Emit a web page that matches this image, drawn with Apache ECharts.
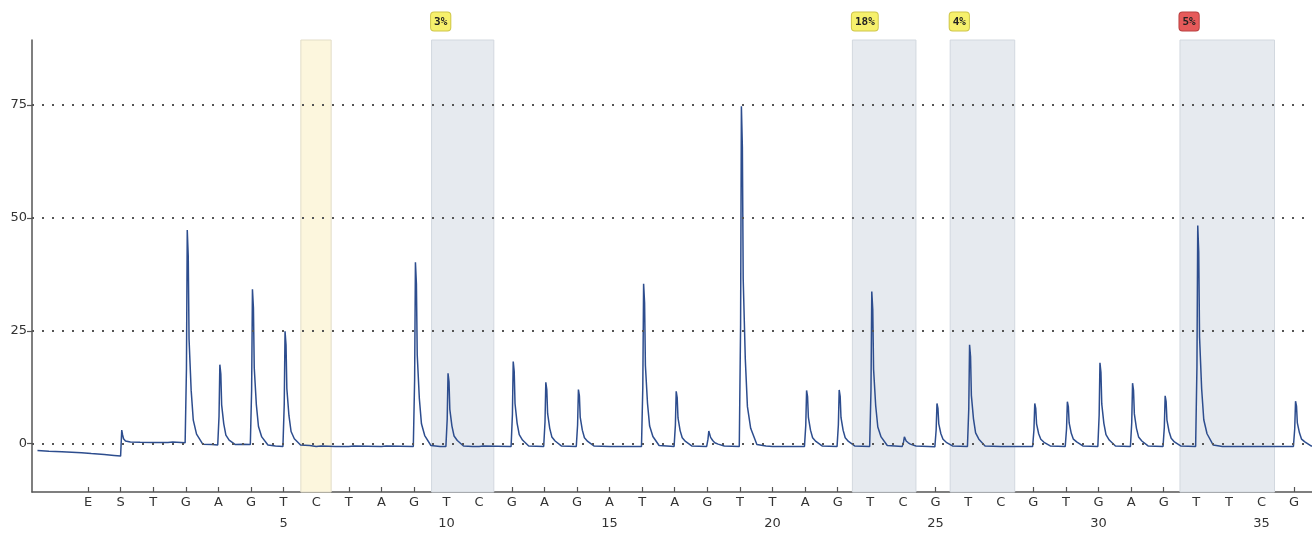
<!DOCTYPE html>
<html>
<head>
<meta charset="utf-8">
<script src="https://cdn.jsdelivr.net/npm/echarts@6/dist/echarts.min.js"></script>
<style>
html,body{margin:0;padding:0;background:#fff;}
#chart{width:1312px;height:534px;}
</style>
</head>
<body>
<div id="chart"></div>
<script>
// Dispensation order: index 0 = E (position -1), index 1 = S (position 0), then positions 1..36
const dispensation = ['E','S','T','G','A','G','T','C','T','A','G','T','C','G','A','G','A','T','A','G','T','T','A','G','T','C','G','T','C','G','T','G','A','G','T','T','C','G'];
const numberedPositions = [5,10,15,20,25,30,35];
const yTicks = [0,25,50,75];

// Highlighted dispensation ranges and their badges
const shadedRanges = [[5.53,6.46],[9.54,11.45],[22.45,24.4],[25.45,27.43],[32.5,35.4]];
const shadedKinds = ['yellow','gray','gray','gray','gray'];
const badgeLabels = ['','3%','18%','4%','5%'];
const badgeKinds = ['','yellow','yellow','yellow','red'];

// Pyrogram trace [position, signal]
const trace = [
[-2.55,-1.5],[-2.2,-1.7],[-1.8,-1.8],[-1.5,-1.9],[-1.2,-2.0],[-0.9,-2.2],[-0.5,-2.4],[-0.2,-2.6],[0.0,-2.75],[0.02,-2.6],
[0.035,3.0],[0.06,2.0],[0.09,1.1],[0.15,0.6],[0.3,0.35],[0.6,0.3],[1.0,0.25],[1.45,0.25],[1.5,0.6],[1.6,0.35],[1.98,0.2],
[2.0,0.2],[2.02,16.5],[2.045,47.3],[2.075,41.6],[2.1,23.2],[2.165,11.8],[2.23,5.2],[2.33,2.1],[2.52,-0.1],[2.8,-0.2],[2.98,-0.3],
[3.0,-0.3],[3.02,6.1],[3.045,17.5],[3.075,15.4],[3.1,8.6],[3.165,4.4],[3.23,1.9],[3.33,0.8],[3.52,-0.2],[3.75,-0.1],[3.98,-0.2],
[4.0,-0.2],[4.02,12.0],[4.045,34.2],[4.075,30.1],[4.1,16.8],[4.165,8.6],[4.23,3.8],[4.33,1.5],[4.52,-0.3],[4.75,-0.5],[4.98,-0.6],
[5.0,-0.6],[5.02,8.7],[5.045,24.9],[5.075,21.9],[5.1,12.2],[5.165,6.2],[5.23,2.7],[5.33,1.1],[5.52,-0.3],[5.8,-0.4],
[6.0,-0.6],[6.05,-0.3],[6.15,-0.5],[6.6,-0.6],[7.0,-0.6],[7.05,-0.3],[7.15,-0.5],[8.0,-0.6],[8.05,-0.35],[8.15,-0.5],[8.98,-0.6],
[9.0,-0.5],[9.02,14.1],[9.045,40.2],[9.075,35.4],[9.1,19.7],[9.165,10.0],[9.23,4.4],[9.33,1.8],[9.52,-0.4],[9.8,-0.6],[9.98,-0.6],
[10.0,-0.6],[10.02,5.5],[10.045,15.6],[10.075,13.7],[10.1,7.6],[10.165,3.9],[10.23,1.7],[10.33,0.7],[10.52,-0.5],[10.8,-0.6],
[11.0,-0.6],[11.04,-0.2],[11.12,-0.5],[11.98,-0.6],
[12.0,-0.6],[12.02,6.4],[12.045,18.2],[12.075,16.0],[12.1,8.9],[12.165,4.5],[12.23,2.0],[12.33,0.8],[12.52,-0.5],[12.98,-0.6],
[13.0,-0.6],[13.02,4.8],[13.045,13.6],[13.075,12.0],[13.1,6.7],[13.165,3.4],[13.23,1.5],[13.33,0.6],[13.52,-0.5],[13.98,-0.6],
[14.0,-0.6],[14.02,4.2],[14.045,12.0],[14.075,10.6],[14.1,5.9],[14.165,3.0],[14.23,1.3],[14.33,0.5],[14.52,-0.5],
[15.0,-0.6],[15.05,-0.4],[15.15,-0.6],[15.98,-0.6],
[16.0,-0.6],[16.02,12.4],[16.045,35.4],[16.075,31.2],[16.1,17.3],[16.165,8.9],[16.23,3.9],[16.33,1.6],[16.52,-0.4],[16.98,-0.6],
[17.0,-0.6],[17.02,4.1],[17.045,11.6],[17.075,10.2],[17.1,5.7],[17.165,2.9],[17.23,1.3],[17.33,0.5],[17.52,-0.5],[17.98,-0.6],
[18.0,-0.6],[18.02,1.0],[18.045,2.8],[18.075,2.4],[18.1,1.4],[18.165,0.7],[18.23,0.2],[18.33,-0.1],[18.52,-0.5],[18.98,-0.6],
[19.0,-0.6],[19.02,26.1],[19.045,74.7],[19.075,65.7],[19.1,36.6],[19.165,18.7],[19.23,8.2],[19.33,3.4],[19.52,-0.2],[19.8,-0.5],
[20.0,-0.6],[20.05,-0.4],[20.15,-0.6],[20.98,-0.6],
[21.0,-0.6],[21.02,4.1],[21.045,11.8],[21.075,10.4],[21.1,5.8],[21.165,3.0],[21.23,1.3],[21.33,0.5],[21.52,-0.5],[21.98,-0.6],
[22.0,-0.6],[22.02,4.2],[22.045,11.9],[22.075,10.5],[22.1,5.8],[22.165,3.0],[22.23,1.3],[22.33,0.5],[22.52,-0.5],[22.98,-0.6],
[23.0,-0.6],[23.02,11.8],[23.045,33.7],[23.075,29.7],[23.1,16.5],[23.165,8.4],[23.23,3.7],[23.33,1.5],[23.52,-0.4],[23.98,-0.6],
[24.0,-0.6],[24.02,0.4],[24.045,1.5],[24.075,1.2],[24.1,0.6],[24.165,0.2],[24.23,-0.1],[24.4,-0.5],[24.98,-0.7],
[25.0,-0.7],[25.02,3.1],[25.045,8.9],[25.075,7.8],[25.1,4.4],[25.165,2.2],[25.23,1.0],[25.33,0.3],[25.52,-0.5],[25.98,-0.6],
[26.0,-0.6],[26.02,7.7],[26.045,21.9],[26.075,19.3],[26.1,10.7],[26.165,5.5],[26.23,2.4],[26.33,1.0],[26.52,-0.5],
[27.0,-0.6],[27.05,-0.4],[27.15,-0.6],[27.98,-0.6],
[28.0,-0.6],[28.02,3.1],[28.045,8.9],[28.075,7.8],[28.1,4.4],[28.165,2.2],[28.23,1.0],[28.33,0.3],[28.52,-0.5],[28.98,-0.6],
[29.0,-0.6],[29.02,3.3],[29.045,9.3],[29.075,8.2],[29.1,4.6],[29.165,2.3],[29.23,1.0],[29.33,0.4],[29.52,-0.5],[29.98,-0.6],
[30.0,-0.6],[30.02,6.3],[30.045,17.9],[30.075,15.8],[30.1,8.8],[30.165,4.5],[30.23,2.0],[30.33,0.8],[30.52,-0.5],[30.98,-0.6],
[31.0,-0.6],[31.02,4.7],[31.045,13.4],[31.075,11.8],[31.1,6.6],[31.165,3.4],[31.23,1.5],[31.33,0.6],[31.52,-0.5],[31.98,-0.6],
[32.0,-0.6],[32.02,3.7],[32.045,10.6],[32.075,9.3],[32.1,5.2],[32.165,2.7],[32.23,1.2],[32.33,0.4],[32.52,-0.5],[32.98,-0.6],
[33.0,-0.6],[33.02,16.9],[33.045,48.3],[33.075,42.5],[33.1,23.7],[33.165,12.1],[33.23,5.3],[33.33,2.2],[33.52,-0.3],[33.8,-0.6],
[34.0,-0.6],[34.05,-0.4],[34.15,-0.6],[35.0,-0.6],[35.05,-0.35],[35.15,-0.6],[35.98,-0.6],
[36.0,-0.6],[36.02,3.3],[36.045,9.4],[36.075,8.3],[36.1,4.6],[36.165,2.4],[36.23,1.0],[36.33,0.4],[36.52,-0.5],[36.55,-0.5]
];

const positions = dispensation.map((d, i) => i - 1);

const areaStyles = {
  yellow: {color: '#fcf6dd', borderColor: '#e2ddc8', borderWidth: 1},
  gray: {color: '#e6eaef', borderColor: '#d2d8df', borderWidth: 1}
};
const badgeStyles = {
  yellow: {backgroundColor: '#f6f06c', borderColor: '#cfc64a'},
  red: {backgroundColor: '#e65a5a', borderColor: '#b94040'}
};

const areaData = shadedRanges.map((r, i) => {
  const start = {xAxis: r[0], itemStyle: areaStyles[shadedKinds[i]]};
  if (badgeLabels[i]) {
    const b = badgeStyles[badgeKinds[i]];
    start.label = {
      show: true, formatter: badgeLabels[i], position: [0, -27],
      fontFamily: 'DejaVu Sans Mono', fontWeight: 'bold', fontSize: 11, color: '#222',
      backgroundColor: b.backgroundColor, borderColor: b.borderColor, borderWidth: 1,
      borderRadius: 3, padding: [3, 3, 2, 3], lineHeight: 13
    };
  } else {
    start.label = {show: false};
  }
  return [start, {xAxis: r[1]}];
});

const chart = echarts.init(document.getElementById('chart'), null, {renderer: 'canvas'});
chart.setOption({
  animation: false,
  backgroundColor: '#fff',
  grid: {left: 32, right: 0, top: 40, bottom: 37, containLabel: false},
  xAxis: {
    type: 'value', min: -2.718, max: 36.55,
    axisLine: {show: true, onZero: false, lineStyle: {color: '#555', width: 1.5}},
    axisTick: {show: true, inside: true, length: 5, customValues: positions, lineStyle: {color: '#555', width: 1.2}},
    axisLabel: {
      customValues: positions, margin: 0, lineHeight: 21,
      fontFamily: 'DejaVu Sans', fontSize: 13, color: '#333',
      formatter: function (v) {
        const idx = Math.round(v) + 1;
        const letter = dispensation[idx] || '';
        return numberedPositions.indexOf(Math.round(v)) >= 0 ? letter + '\n' + Math.round(v) : letter;
      }
    },
    splitLine: {show: false}
  },
  yAxis: {
    type: 'value', min: -10.7, max: 89.4,
    axisLine: {show: true, onZero: false, lineStyle: {color: '#555', width: 1.5}},
    axisTick: {show: true, length: 5, customValues: yTicks, lineStyle: {color: '#555', width: 1.2}},
    axisLabel: {customValues: yTicks, margin: 5, fontFamily: 'DejaVu Sans', fontSize: 13, color: '#333'},
    splitLine: {show: false}
  },
  series: [
    {
      type: 'line', name: 'areas', data: [], silent: true, z: 1,
      markArea: {silent: true, data: areaData}
    },
    {
      type: 'line', name: 'grid', data: [], silent: true, z: 2,
      markLine: {
        silent: true, symbol: ['none', 'none'], label: {show: false},
        lineStyle: {color: '#555', type: [2, 8], width: 2},
        data: yTicks.map(v => ({yAxis: v}))
      }
    },
    {
      type: 'line', name: 'trace', data: trace, z: 3,
      showSymbol: false, symbol: 'none', smooth: false,
      lineStyle: {color: '#2d4d8e', width: 1.5}
    }
  ]
});
</script>
</body>
</html>
